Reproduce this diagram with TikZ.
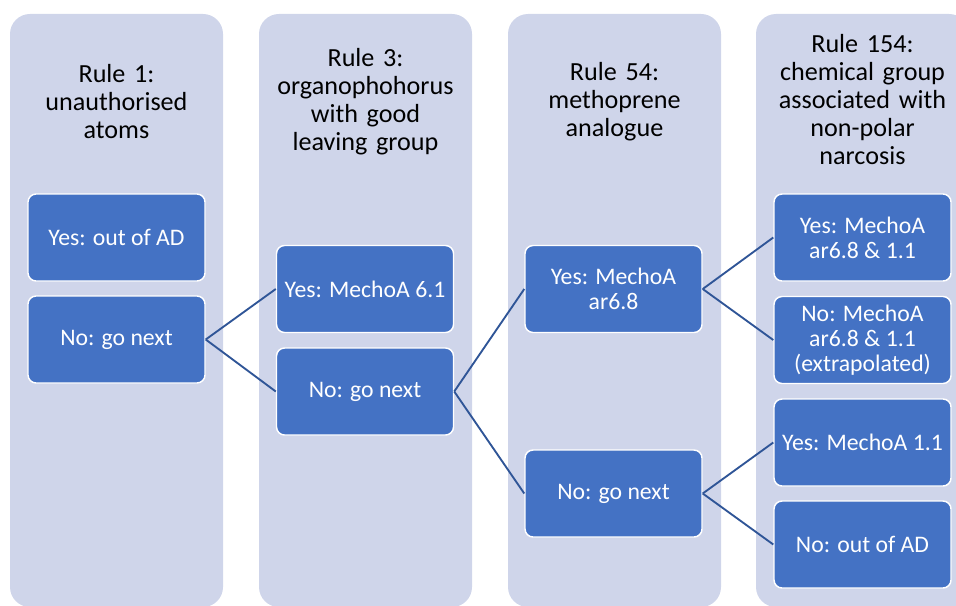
\documentclass[tikz,border=0pt]{standalone}
\usepackage{fontspec}
\setmainfont{Carlito}
\definecolor{colbg}{HTML}{CFD5EA}
\definecolor{boxbg}{HTML}{4472C4}
\definecolor{linkc}{HTML}{2F5597}
\begin{document}
\begin{tikzpicture}[x=0.75pt,y=-0.75pt,
  column/.style={fill=colbg, draw=none, rounded corners=15pt},
  title/.style={align=center, text width=200pt, font=\fontsize{19.6}{21}\selectfont, text=black},
  dbox/.style={draw=white, line width=1.1pt, fill=boxbg, rounded corners=6pt, text=white,
    minimum width=132.75pt, minimum height=65.25pt, align=center, inner sep=2pt,
    font=\fontsize{17.8}{18.75}\selectfont},
  link/.style={draw=linkc, line width=1.4pt}]
\useasboundingbox (0,0) rectangle (956,606);
\clip (0,0) rectangle (956,606);
% columns
\fill[column] (10,14) rectangle (223,607);
\fill[column] (259,14) rectangle (472,607);
\fill[column] (508,14) rectangle (721,607);
\fill[column] (756,14) rectangle (969,607);
% titles
\node[title] (t1) at (116.5,102) {Rule 1:\\unauthorised\\atoms};
\node[title] (t2) at (365.5,102) {Rule 3:\\organophohorus\\with good\\leaving group};
\node[title] (t3) at (614.5,102) {Rule 54:\\methoprene\\analogue};
\node[title] (t4) at (862.5,100) {Rule 154:\\chemical group\\associated with\\non-polar\\narcosis};
% boxes
\node[dbox] (a1) at (116.5,237.5) {Yes: out of AD};
\node[dbox] (a2) at (116.5,339.5) {No: go next};
\node[dbox] (b1) at (365,289) {Yes: MechoA 6.1};
\node[dbox] (b2) at (365,391.5) {No: go next};
\node[dbox] (c1) at (613.5,289) {Yes: MechoA\\ar6.8};
\node[dbox] (c2) at (613.5,493.5) {No: go next};
\node[dbox] (d1) at (862.5,237.5) {Yes: MechoA\\ar6.8 \& 1.1};
\node[dbox] (d2) at (862.5,340) {No: MechoA\\ar6.8 \& 1.1\\(extrapolated)};
\node[dbox] (d3) at (862.5,442.5) {Yes: MechoA 1.1};
\node[dbox] (d4) at (862.5,544.5) {No: out of AD};
% connectors
\draw[link] (a2.east) -- (b1.west);
\draw[link] (a2.east) -- (b2.west);
\draw[link] (b2.east) -- (c1.west);
\draw[link] (b2.east) -- (c2.west);
\draw[link] (c1.east) -- (d1.west);
\draw[link] (c1.east) -- (d2.west);
\draw[link] (c2.east) -- (d3.west);
\draw[link] (c2.east) -- (d4.west);
\end{tikzpicture}
\end{document}
